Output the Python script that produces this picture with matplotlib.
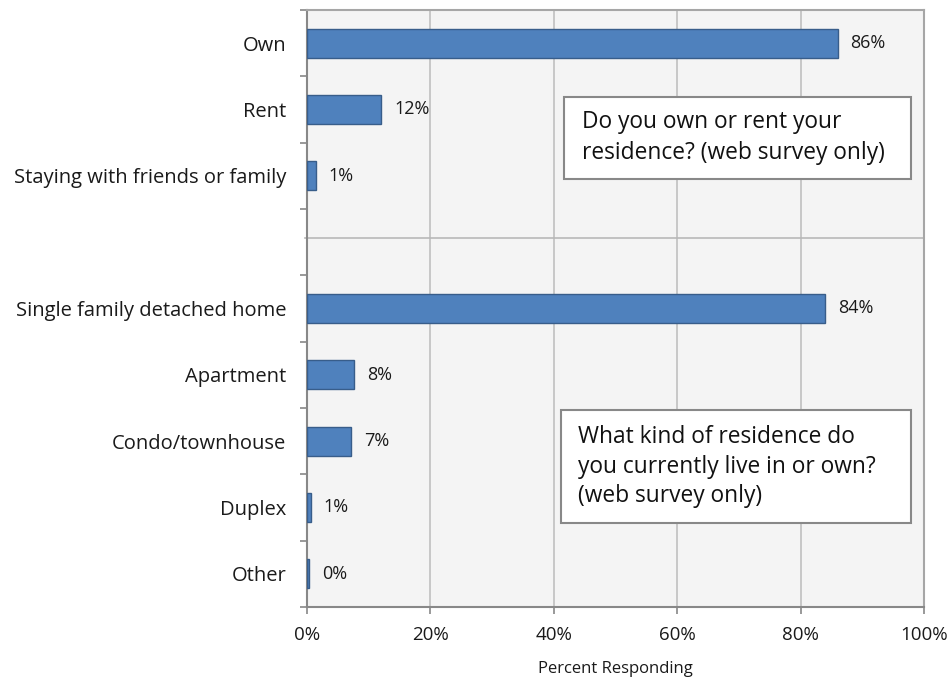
import matplotlib.pyplot as plt
from matplotlib.patches import Rectangle
import numpy as np

plt.rcParams['font.family'] = ['Open Sans', 'DejaVu Sans']

# Survey results, percent responding
tenure_labels = ['Own', 'Rent', 'Staying with friends or family']
tenure_values = [86, 12, 1.4]
residence_labels = ['Single family detached home', 'Apartment', 'Condo/townhouse',
                    'Duplex', 'Other']
residence_values = [84, 7.6, 7.2, 0.6, 0.3]
x_ticks = [0, 20, 40, 60, 80, 100]

# one empty slot between the two questions
labels = tenure_labels + [''] + residence_labels
values = tenure_values + [np.nan] + residence_values
gap = len(tenure_labels)
ypos = np.arange(len(labels))

fig = plt.figure(figsize=(9.48, 6.81), dpi=100)
ax = fig.add_axes([307 / 948, 74 / 681, 617 / 948, 597 / 681])
ax.set_facecolor('#f4f4f4')

ax.barh(ypos, values, height=0.44, color='#4f81bd', edgecolor='#385d8a', linewidth=1, zorder=3)
for y, v in zip(ypos, values):
    if np.isnan(v):
        continue
    ax.text(v + 2.1, y, f'{v:.0f}%', va='center', ha='left', fontsize=13, color='#1a1a1a')

# separator between the two questions
ax.axhline(gap - 0.07, color='#b8b8b8', linewidth=1.2, zorder=2, xmin=-0.004, clip_on=False)

ax.set_xlim(0, 100)
ax.set_ylim(len(labels) - 0.5, -0.5)
ax.set_xticks(x_ticks)
ax.set_xticklabels([f'{t}%' for t in x_ticks], fontsize=13.5, color='#1a1a1a')
ax.xaxis.grid(True, color='#c0c0c0', linewidth=1.2, zorder=1)
ax.tick_params(axis='x', length=5, width=1.2, color='#888888', pad=9)

ax.set_yticks(ypos)
ax.set_yticklabels(labels, fontsize=14.5, color='#1a1a1a')
ax.set_yticks(np.arange(len(labels) + 1) - 0.5, minor=True)
ax.tick_params(axis='y', which='major', length=0, pad=15)
ax.tick_params(axis='y', which='minor', length=5, width=1.2, color='#888888')

for side in ['left', 'bottom']:
    ax.spines[side].set_color('#888888')
    ax.spines[side].set_linewidth(1.5)
for side in ['top', 'right']:
    ax.spines[side].set_color('#a6a6a6')
    ax.spines[side].set_linewidth(1.5)

ax.set_xlabel('Percent Responding', fontsize=12, labelpad=12, color='#1a1a1a')

# question text boxes
ax.add_patch(Rectangle((0.4165, 0.717), 0.5625, 0.137, transform=ax.transAxes,
                       facecolor='white', edgecolor='#888888', linewidth=1.5, zorder=5))
ax.text(0.446, 0.786, 'Do you own or rent your\nresidence? (web survey only)',
        transform=ax.transAxes, fontsize=16.4, va='center', ha='left',
        linespacing=1.4, zorder=6, color='#111111')
ax.add_patch(Rectangle((0.411, 0.1407), 0.568, 0.1893, transform=ax.transAxes,
                       facecolor='white', edgecolor='#888888', linewidth=1.5, zorder=5))
ax.text(0.439, 0.235, 'What kind of residence do\nyou currently live in or own?\n(web survey only)',
        transform=ax.transAxes, fontsize=16.4, va='center', ha='left',
        linespacing=1.3, zorder=6, color='#111111')

fig.savefig('out.png', dpi=100)
